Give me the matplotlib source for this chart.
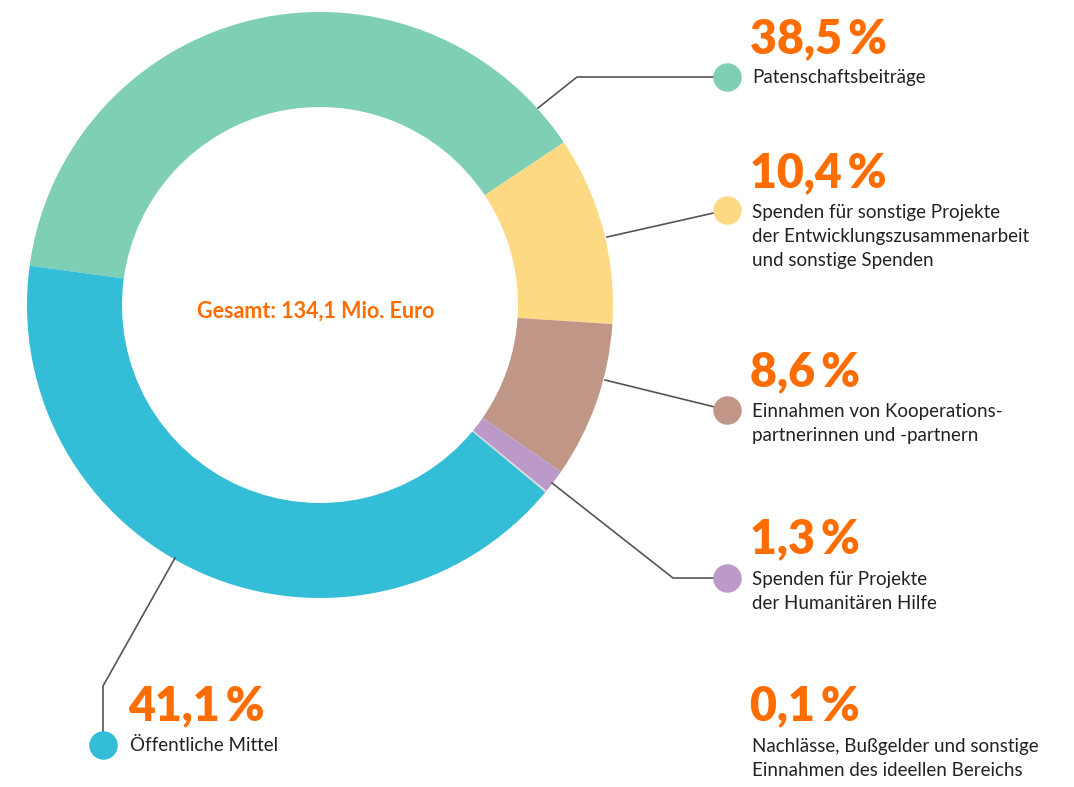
import matplotlib.pyplot as plt

shares = [38.5, 10.4, 8.6, 1.3, 0.1, 41.1]
pct_labels = ["38,5\u2009%", "10,4\u2009%", "8,6\u2009%", "1,3\u2009%", "0,1\u2009%", "41,1\u2009%"]
names = [
    "Patenschaftsbeiträge",
    "Spenden für sonstige Projekte\nder Entwicklungszusammenarbeit\nund sonstige Spenden",
    "Einnahmen von Kooperations-\npartnerinnen und -partnern",
    "Spenden für Projekte\nder Humanitären Hilfe",
    "Nachlässe, Bußgelder und sonstige\nEinnahmen des ideellen Bereichs",
    "Öffentliche Mittel",
]
colors = ["#7ecfb6", "#fdd983", "#c09687", "#bb99c8", "#d9d9d9", "#33bdd6"]
total_text = "Gesamt: 134,1 Mio. Euro"

orange = "#ff6c00"
plt.rcParams['font.family'] = ['Lato', 'DejaVu Sans']

fig = plt.figure(figsize=(10.74, 7.87), dpi=100)
ax = fig.add_axes([0, 0, 1, 1])

# pie in pixel coords (y axis flipped, so direction reversed)
ax.pie(shares, colors=colors, center=(320, 305), radius=293,
       startangle=-172.3, counterclock=True,
       wedgeprops=dict(width=95, linewidth=0),
       frame=True)
ax.set_xlim(0, 1074)
ax.set_ylim(787, 0)
ax.set_aspect('equal')
ax.axis('off')

ax.text(316, 311, total_text, color=orange, fontsize=15.5, fontweight='bold',
        ha='center', va='center')

# leader lines: points, last one is the dot
leaders = [
    [(538, 108), (577, 77), (727, 77)],
    [(607, 237), (727, 210)],
    [(605, 380), (727, 410)],
    [(552, 483), (673, 578), (727, 578)],
    None,
    [(175, 558), (103, 686), (103, 745)],
]
# text anchors (x, baseline of percentage, center of first label line)
text_pos = [
    (752, 53, 77),
    (752, 187, 212),
    (752, 386, 411),
    (752, 553, 579),
    (752, 720, 746),
    (130, 720, 745),
]

for i in range(len(shares)):
    pts = leaders[i]
    if pts is not None:
        xs = [p[0] for p in pts]
        ys = [p[1] for p in pts]
        ax.plot(xs, ys, color='#555555', lw=1.2, zorder=3)
        ax.scatter([xs[-1]], [ys[-1]], s=420, color=colors[i], zorder=4,
                   linewidths=0)
    x, yb, yl = text_pos[i]
    ax.text(x - 2, yb, pct_labels[i], color=orange, fontsize=33.5,
            fontweight='heavy', ha='left', va='baseline')
    ax.text(x, yl - 8, names[i], color='#222222', fontsize=13.5, ha='left',
            va='top', linespacing=1.5)

fig.savefig("out.png", dpi=100)
